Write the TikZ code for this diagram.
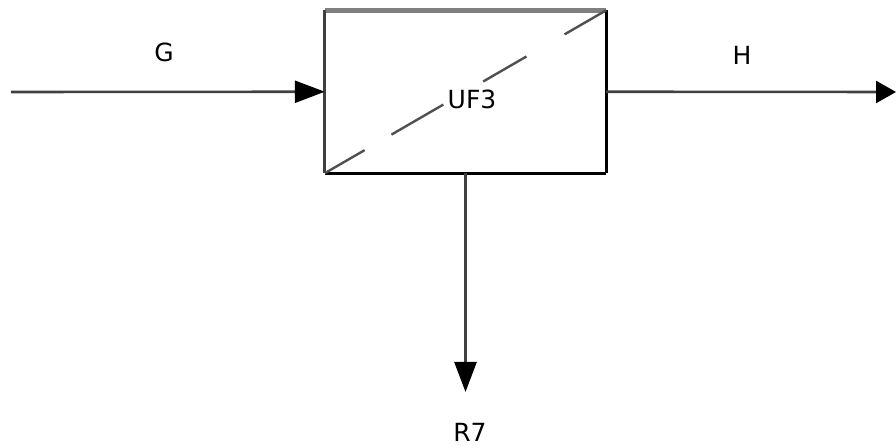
\documentclass[tikz,border=0pt]{standalone}
\usepackage{fontspec}
\setmainfont{DejaVu Sans}
\usetikzlibrary{arrows.meta}
\definecolor{flow}{HTML}{404040}
\definecolor{topedge}{HTML}{808080}
\definecolor{diag}{HTML}{505050}
\begin{document}
\begin{tikzpicture}[x=1pt,y=1pt,
  lbl/.style={font=\fontsize{25}{30}\selectfont, inner sep=0pt},
  stream/.style={draw=flow, line width=2.6pt, -{Triangle[length=30pt,width=22pt,fill=black,color=black]}},
  unitbox/.style={rectangle, minimum width=281pt, minimum height=162.5pt, inner sep=0pt, draw=none}]
\useasboundingbox (0,0) rectangle (896,446);
\node[unitbox] (box) at (465.5,354.25) {};
% box borders
\draw[topedge, line width=5pt] (box.north west) -- (box.north east);
\draw[flow, line width=3.2pt] (box.north west) -- (box.south west);
\draw[black, line width=3.2pt] (box.north east) -- (box.south east);
\draw[black, line width=3pt] (box.south west) -- (box.south east);
% dashed diagonal
\draw[diag, line width=2.4pt, dash pattern=on 46pt off 31pt on 60pt off 46pt on 50pt off 44pt on 60pt]
  (box.south west) -- (box.north east);
\node[lbl] (uf3) at (472,347) {UF3};
% streams
\coordinate (gin) at (11,354);
\coordinate (hout) at (896,354);
\coordinate (rout) at (465.5,54);
\draw[stream] (gin) -- (box.west);
\draw[draw=flow, line width=2.6pt, -{Triangle[length=20pt,width=22pt,fill=black,color=black]}] (box.east) -- (hout);
\draw[stream] (box.south) -- (rout);
\node[lbl] (g) at (164,394) {G};
\node[lbl] (h) at (742,391) {H};
\node[lbl, anchor=base] (r7) at (470,4.5) {R7};
\end{tikzpicture}
\end{document}
